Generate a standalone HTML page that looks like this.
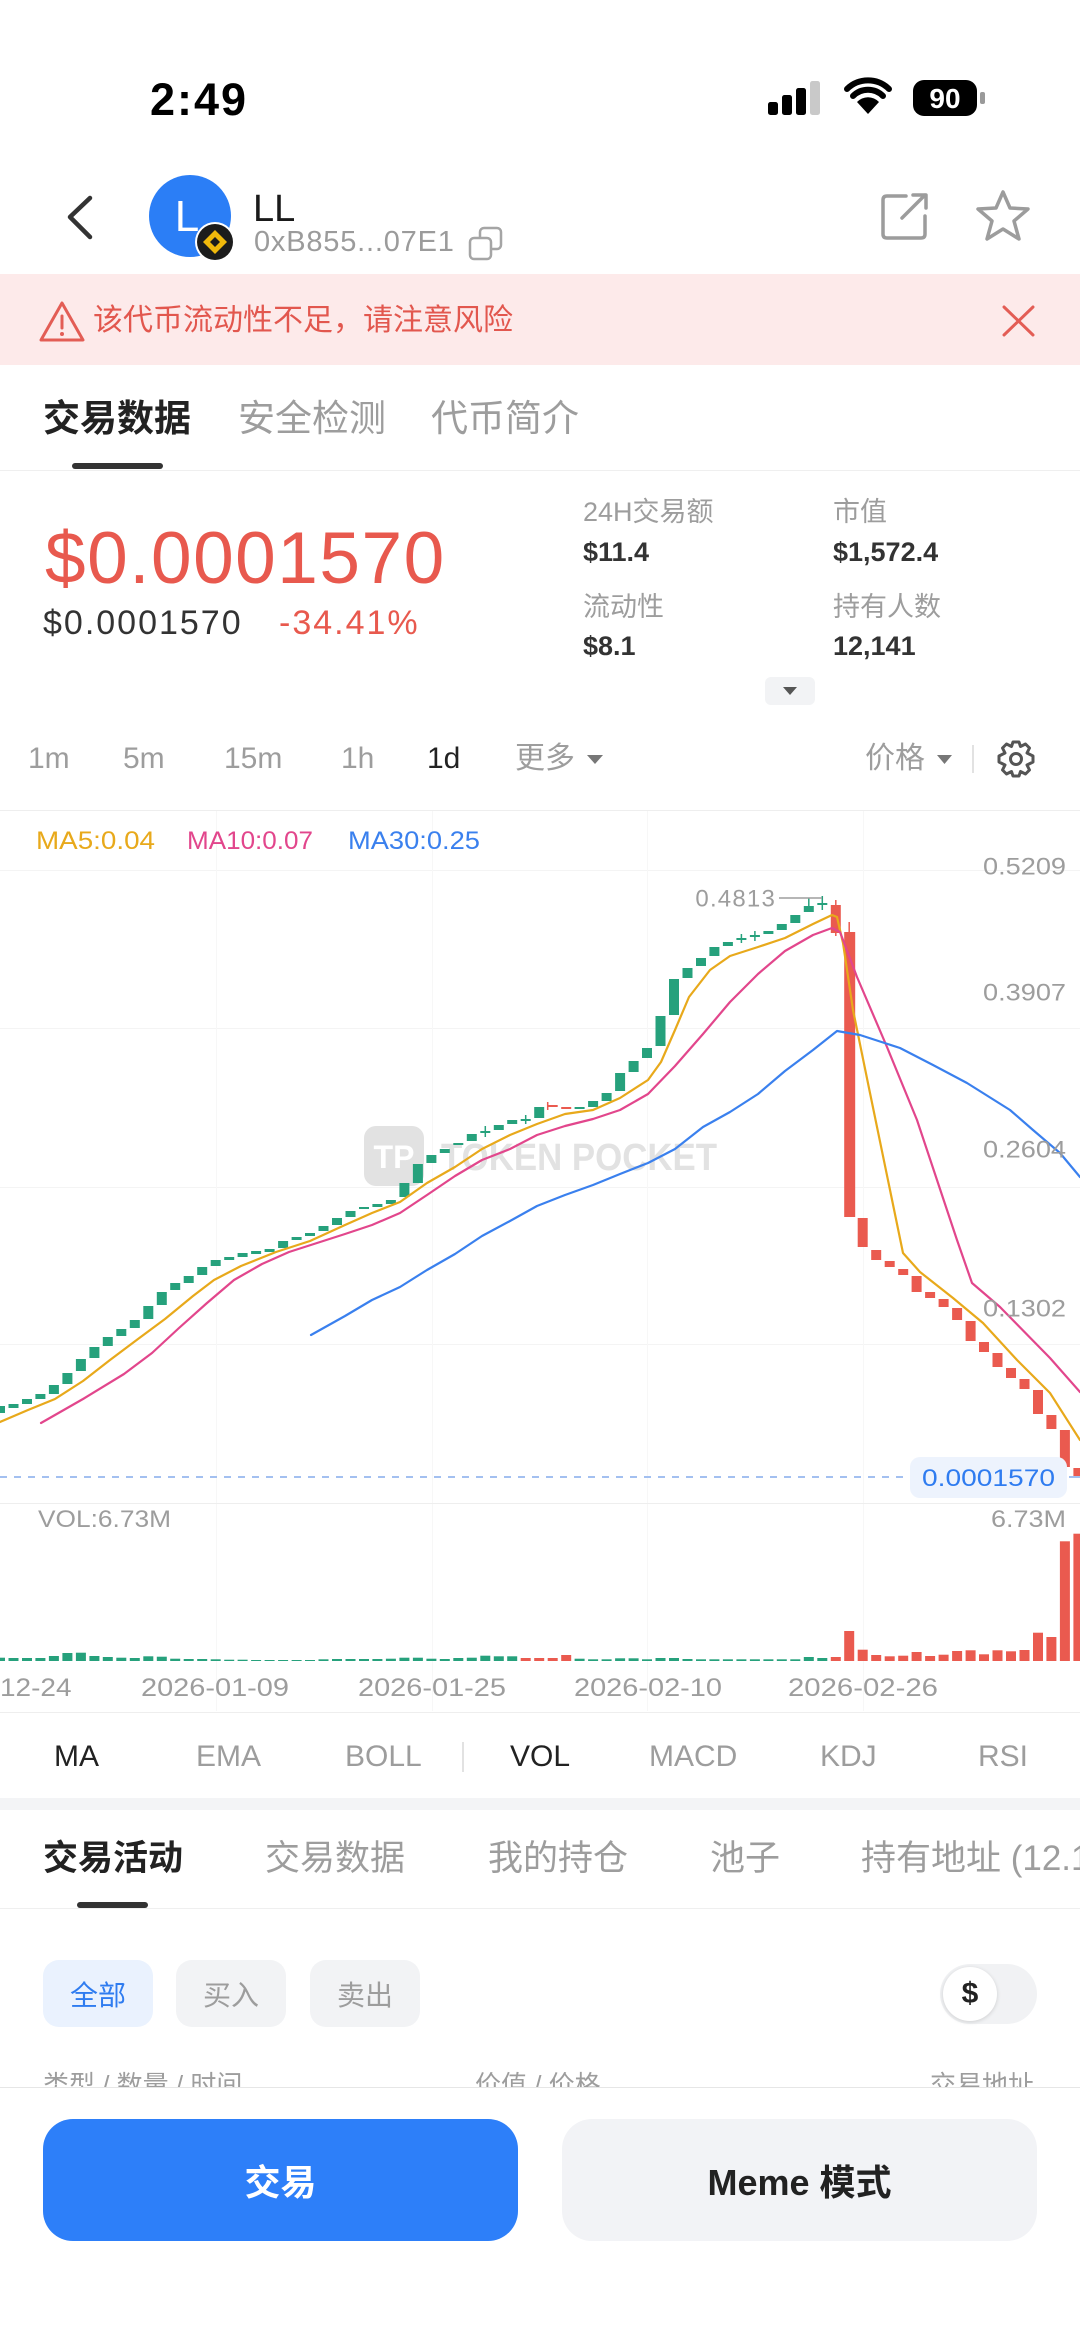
<!DOCTYPE html>
<html><head><meta charset="utf-8">
<style>
*{margin:0;padding:0;box-sizing:border-box}
html,body{width:1080px;height:2345px;overflow:hidden;background:#fff}
body{position:relative;font-family:"Liberation Sans","Noto Sans CJK SC",sans-serif;color:#222}
.t{position:absolute;white-space:nowrap}
.g{color:#9d9d9d}
.chip{position:absolute;top:1960px;height:67px;width:110px;border-radius:16px;display:flex;align-items:center;justify-content:center;font-size:28px;background:#f2f3f5;color:#9d9d9d}
</style></head><body>

<div style="position:absolute;left:0;top:274px;width:1080px;height:91px;background:#fdeaea"></div>
<div style="position:absolute;left:0;top:1798px;width:1080px;height:12px;background:#f3f4f6"></div>

<div class="chip" style="left:43px;background:#eaf2fe;color:#2f7cf0">全部</div>
<div class="chip" style="left:176px">买入</div>
<div class="chip" style="left:310px">卖出</div>
<div style="position:absolute;left:940px;top:1964px;width:97px;height:60px;border-radius:30px;background:#f1f2f4"></div>
<div style="position:absolute;left:943px;top:1967px;width:54px;height:54px;border-radius:50%;background:#fff;box-shadow:0 1px 4px rgba(0,0,0,.15);display:flex;align-items:center;justify-content:center;font-size:30px;font-weight:bold;color:#222">$</div>

<div style="position:absolute;left:0;top:2060px;width:1080px;height:27px;overflow:hidden">
  <div class="t g" style="left:43px;top:12px;font-size:26px;line-height:26px">类型 / 数量 / 时间</div>
  <div class="t g" style="left:475px;top:12px;font-size:26px;line-height:26px">价值 / 价格</div>
  <div class="t g" style="left:930px;top:12px;font-size:26px;line-height:26px">交易地址</div>
</div>
<div style="position:absolute;left:0;top:2087px;width:1080px;height:1px;background:#e6e6e6"></div>
<div style="position:absolute;left:43px;top:2119px;width:475px;height:122px;border-radius:30px;background:#2d7ff9;display:flex;align-items:center;justify-content:center;color:#fff;font-size:36px;font-weight:600">交易</div>
<div style="position:absolute;left:562px;top:2119px;width:475px;height:122px;border-radius:30px;background:#f2f3f6;display:flex;align-items:center;justify-content:center;color:#222;font-size:36px;font-weight:600">Meme 模式</div>

<svg style="position:absolute;left:0;top:0" width="1080" height="2345" viewBox="0 0 1080 2345" font-family="Liberation Sans, Noto Sans CJK SC, sans-serif">
  <!-- status bar -->
  <rect x="768" y="102" width="10" height="13" rx="2.5" fill="#000"/>
  <rect x="782" y="95" width="10" height="20" rx="2.5" fill="#000"/>
  <rect x="796" y="88" width="10" height="27" rx="2.5" fill="#000"/>
  <rect x="810" y="81" width="10" height="34" rx="2.5" fill="#c9c9c9"/>
  <path d="M868 114 L857 102 A15 15 0 0 1 879 102 Z" fill="#000"/>
  <path d="M853 96 A21 21 0 0 1 883 96" stroke="#000" stroke-width="6" fill="none" stroke-linecap="round"/>
  <path d="M847 89 A30 30 0 0 1 889 89" stroke="#000" stroke-width="6" fill="none" stroke-linecap="round"/>
  <rect x="913" y="80" width="64" height="36" rx="11" fill="#000"/>
  <text x="945" y="108" font-size="28" font-weight="bold" fill="#fff" text-anchor="middle">90</text>
  <rect x="980" y="92" width="5" height="12" rx="2" fill="#9a9a9a"/>

  <!-- header -->
  <polyline points="90,198 70,217 90,237" fill="none" stroke="#333" stroke-width="4.5" stroke-linecap="round" stroke-linejoin="round"/>
  <circle cx="190" cy="216" r="41" fill="#2b7ef6"/>
  <text x="187" y="231" font-size="44" fill="#fff" text-anchor="middle">L</text>
  <circle cx="215" cy="242" r="20" fill="#fff"/>
  <circle cx="215" cy="242" r="18" fill="#1c1c1c"/>
  <polygon points="215,230 227,242 215,254 203,242" fill="#f0b90b"/>
  <polygon points="215,237 220,242 215,247 210,242" fill="#1c1c1c"/>
  <rect x="480" y="228" width="21" height="21" rx="4" fill="none" stroke="#a5a5a5" stroke-width="2.5"/>
  <rect x="470" y="238" width="21" height="21" rx="4" fill="#fff" stroke="#a5a5a5" stroke-width="2.5"/>
  <path d="M906 196 H887 Q883 196 883 200 V234 Q883 238 887 238 H921 Q925 238 925 234 V216" fill="none" stroke="#9c9c9c" stroke-width="3.5" stroke-linecap="round"/>
  <path d="M902 218 L925 195 M913 195 H926 V208" fill="none" stroke="#9c9c9c" stroke-width="3.5" stroke-linecap="round" stroke-linejoin="round"/>
  <polygon points="1003,192 1010,208 1028,209 1014,221 1019,239 1003,229 987,239 992,221 978,209 996,208" fill="none" stroke="#9c9c9c" stroke-width="3.5" stroke-linejoin="round"/>

  <!-- warning -->
  <path d="M62 303 L83 340 H41 Z" fill="none" stroke="#e35d55" stroke-width="3" stroke-linejoin="round"/>
  <line x1="62" y1="316" x2="62" y2="328" stroke="#e35d55" stroke-width="3" stroke-linecap="round"/>
  <circle cx="62" cy="334" r="2" fill="#e35d55"/>
  <path d="M1004 307 L1033 335 M1033 307 L1004 335" stroke="#e35d55" stroke-width="3" stroke-linecap="round"/>

  <!-- tabs -->
  <rect x="72" y="463" width="91" height="6" rx="3" fill="#333"/>
  <rect x="0" y="470" width="1080" height="1" fill="#efefef"/>

  <!-- dropdown -->
  <rect x="765" y="677" width="50" height="28" rx="6" fill="#f2f3f5"/>
  <polygon points="783,687 797,687 790,695" fill="#555"/>

  <!-- timeframe icons -->
  <polygon points="587,755 603,755 595,764" fill="#777"/>
  <polygon points="937,755 952,755 944.5,764" fill="#777"/>
  <rect x="972" y="745" width="2" height="28" fill="#e2e2e2"/>
  <g transform="translate(1016,759)" fill="none" stroke="#555" stroke-width="3" stroke-linejoin="round">
    <path d="M-3,-17 L3,-17 L4.5,-12.5 L9.5,-15 L13.5,-11 L11,-6 L17,-3 L17,3 L11,6 L13.5,11 L9.5,15 L4.5,12.5 L3,17 L-3,17 L-4.5,12.5 L-9.5,15 L-13.5,11 L-11,6 L-17,3 L-17,-3 L-11,-6 L-13.5,-11 L-9.5,-15 L-4.5,-12.5 Z"/>
    <circle cx="0" cy="0" r="5.5"/>
  </g>

  <!-- chart frame -->
  <rect x="0" y="810" width="1080" height="1" fill="#eeeeee"/>
  <g fill="#f4f4f4">
    <rect x="0" y="870" width="1080" height="1"/>
    <rect x="0" y="1028" width="1080" height="1"/>
    <rect x="0" y="1187" width="1080" height="1"/>
    <rect x="0" y="1344" width="1080" height="1"/>
  </g>
  <g fill="#f7f7f7">
    <rect x="216" y="811" width="1" height="900"/>
    <rect x="432" y="811" width="1" height="900"/>
    <rect x="647" y="811" width="1" height="900"/>
    <rect x="863" y="811" width="1" height="900"/>
  </g>
  <rect x="0" y="1503" width="1080" height="1" fill="#eeeeee"/>
  <rect x="0" y="1712" width="1080" height="1" fill="#eeeeee"/>

  <!-- watermark -->
  <rect x="364" y="1126" width="60" height="60" rx="12" fill="#e2e2e2"/>
  <text x="394" y="1168" font-size="32" font-weight="bold" fill="#fff" text-anchor="middle">TP</text>
  <text x="441" y="1170" font-size="38" font-weight="bold" fill="#e2e2e2" textLength="276" lengthAdjust="spacingAndGlyphs">TOKEN POCKET</text>

  <!-- legend -->
  <text x="36" y="849" font-size="25" fill="#e8a91b" textLength="119" lengthAdjust="spacingAndGlyphs">MA5:0.04</text>
  <text x="187" y="849" font-size="25" fill="#e2468c" textLength="126" lengthAdjust="spacingAndGlyphs">MA10:0.07</text>
  <text x="348" y="849" font-size="25" fill="#3a80ee" textLength="132" lengthAdjust="spacingAndGlyphs">MA30:0.25</text>

  <!-- wicks -->
  <g stroke-width="1.5">
    <line x1="485.3" y1="1126" x2="485.3" y2="1137" stroke="#26a17c"/>
    <line x1="525.7" y1="1115" x2="525.7" y2="1124" stroke="#26a17c"/>
    <line x1="741.4" y1="934" x2="741.4" y2="943" stroke="#26a17c"/>
    <line x1="754.9" y1="931" x2="754.9" y2="941" stroke="#26a17c"/>
    <line x1="808.8" y1="898" x2="808.8" y2="912" stroke="#26a17c"/>
    <line x1="822.3" y1="896" x2="822.3" y2="910" stroke="#26a17c"/>
    <line x1="835.8" y1="900" x2="835.8" y2="936" stroke="#ea5a4f"/>
    <line x1="849.2" y1="922" x2="849.2" y2="1217" stroke="#ea5a4f"/>
    <line x1="547.7" y1="1102" x2="547.7" y2="1110" stroke="#ea5a4f"/>
  </g>

  <!-- candles green -->
  <g fill="#26a17c">
    <rect x="-5" y="1406" width="10" height="7"/>
    <rect x="8.5" y="1404" width="10" height="4"/>
    <rect x="22" y="1399" width="10" height="5"/>
    <rect x="35.4" y="1394" width="10" height="5"/>
    <rect x="48.9" y="1385" width="10" height="9"/>
    <rect x="62.4" y="1373" width="10" height="11"/>
    <rect x="75.9" y="1359" width="10" height="12"/>
    <rect x="89.4" y="1347" width="10" height="11"/>
    <rect x="102.8" y="1337" width="10" height="9"/>
    <rect x="116.3" y="1329" width="10" height="7"/>
    <rect x="129.8" y="1320" width="10" height="8"/>
    <rect x="143.3" y="1306" width="10" height="13"/>
    <rect x="156.8" y="1292" width="10" height="13"/>
    <rect x="170.2" y="1283" width="10" height="7"/>
    <rect x="183.7" y="1276" width="10" height="7"/>
    <rect x="197.2" y="1267" width="10" height="8"/>
    <rect x="210.7" y="1260" width="10" height="6"/>
    <rect x="224.2" y="1257" width="10" height="3"/>
    <rect x="237.6" y="1253" width="10" height="4"/>
    <rect x="251.1" y="1251" width="10" height="3"/>
    <rect x="264.6" y="1249" width="10" height="3"/>
    <rect x="278.1" y="1241" width="10" height="7"/>
    <rect x="291.6" y="1237" width="10" height="3"/>
    <rect x="305" y="1233" width="10" height="3"/>
    <rect x="318.5" y="1226" width="10" height="5"/>
    <rect x="332" y="1218" width="10" height="7"/>
    <rect x="345.5" y="1211" width="10" height="6"/>
    <rect x="359" y="1207" width="10" height="2"/>
    <rect x="372.4" y="1204" width="10" height="3"/>
    <rect x="385.9" y="1200" width="10" height="4"/>
    <rect x="399.4" y="1183" width="10" height="14"/>
    <rect x="412.9" y="1164" width="10" height="19"/>
    <rect x="426.4" y="1155" width="10" height="8"/>
    <rect x="439.8" y="1149" width="10" height="4"/>
    <rect x="453.3" y="1143" width="10" height="2"/>
    <rect x="466.8" y="1134" width="10" height="7"/>
    <rect x="480.3" y="1131" width="10" height="2"/>
    <rect x="493.8" y="1125" width="10" height="5"/>
    <rect x="507.2" y="1120" width="10" height="4"/>
    <rect x="520.7" y="1119" width="10" height="2"/>
    <rect x="534.2" y="1107" width="10" height="11"/>
    <rect x="574.6" y="1107" width="10" height="2"/>
    <rect x="588.1" y="1101" width="10" height="6"/>
    <rect x="601.6" y="1093" width="10" height="8"/>
    <rect x="615.1" y="1073" width="10" height="18"/>
    <rect x="628.6" y="1061" width="10" height="11"/>
    <rect x="642" y="1048" width="10" height="10"/>
    <rect x="655.5" y="1016" width="10" height="30"/>
    <rect x="669" y="979" width="10" height="36"/>
    <rect x="682.5" y="968" width="10" height="10"/>
    <rect x="696" y="958" width="10" height="8"/>
    <rect x="709.4" y="947" width="10" height="9"/>
    <rect x="722.9" y="942" width="10" height="4"/>
    <rect x="736.4" y="938" width="10" height="2"/>
    <rect x="749.9" y="935" width="10" height="2"/>
    <rect x="763.4" y="931" width="10" height="3"/>
    <rect x="776.8" y="924" width="10" height="6"/>
    <rect x="790.3" y="915" width="10" height="8"/>
    <rect x="803.8" y="906" width="10" height="6"/>
    <rect x="817.3" y="903" width="10" height="2"/>
  </g>
  <!-- candles red -->
  <g fill="#ea5a4f">
    <rect x="547.7" y="1105" width="10" height="2"/>
    <rect x="561.2" y="1107" width="10" height="2"/>
    <rect x="830.8" y="905" width="10" height="28"/>
    <rect x="844.2" y="932" width="11" height="285"/>
    <rect x="857.7" y="1218" width="10" height="29"/>
    <rect x="871.2" y="1250" width="10" height="10"/>
    <rect x="884.7" y="1261" width="10" height="6"/>
    <rect x="898.2" y="1269" width="10" height="6"/>
    <rect x="911.6" y="1276" width="10" height="16"/>
    <rect x="925.1" y="1292" width="10" height="6"/>
    <rect x="938.6" y="1299" width="10" height="8"/>
    <rect x="952.1" y="1308" width="10" height="12"/>
    <rect x="965.6" y="1321" width="10" height="20"/>
    <rect x="979" y="1342" width="10" height="10"/>
    <rect x="992.5" y="1353" width="10" height="14"/>
    <rect x="1006" y="1368" width="10" height="10"/>
    <rect x="1019.5" y="1379" width="10" height="10"/>
    <rect x="1033" y="1390" width="10" height="24"/>
    <rect x="1046.4" y="1415" width="10" height="14"/>
    <rect x="1059.9" y="1430" width="10" height="37"/>
    <rect x="1073.4" y="1468" width="10" height="9"/>
  </g>

  <!-- MA lines -->
  <g fill="none" stroke-width="2.2" stroke-linejoin="round" stroke-linecap="round">
    <polyline stroke="#e8a91b" points="0,1422 28,1410 55,1399 83,1381 110,1360 138,1339 165,1319 193,1296 214,1280 241,1266 276,1252 310,1241 345,1225 372,1213 400,1202 427,1183 455,1167 482,1149 510,1135 537,1124 565,1114 593,1110 620,1098 648,1080 661,1062 675,1030 689,997 710,970 730,956 758,947 785,938 813,924 832,915 837,917 843,943 853,1010 870,1093 903,1253 920,1272 953,1298 983,1323 1017,1360 1050,1393 1080,1440"/>
    <polyline stroke="#e2468c" points="41,1423 83,1399 124,1374 152,1353 179,1328 207,1303 234,1280 262,1264 289,1252 317,1243 345,1234 372,1225 400,1213 427,1195 455,1176 482,1160 510,1149 537,1135 565,1126 593,1119 620,1110 648,1094 675,1066 703,1034 730,1002 758,974 785,951 813,935 832,928 840,932 857,977 887,1047 917,1120 957,1240 972,1283 1000,1307 1050,1358 1080,1392"/>
    <polyline stroke="#3a80ee" points="311,1335 345,1316 372,1300 400,1287 427,1270 455,1254 482,1236 510,1221 537,1206 565,1195 593,1185 620,1174 648,1163 675,1149 703,1127 730,1112 758,1094 785,1071 813,1050 837,1031 860,1035 900,1048 933,1065 967,1083 1010,1110 1033,1130 1060,1153 1080,1177"/>
  </g>

  <!-- peak marker -->
  <line x1="779" y1="898" x2="822" y2="898" stroke="#9d9d9d" stroke-width="1.5"/>
  <text x="776" y="906.6" font-size="24" fill="#9d9d9d" text-anchor="end" letter-spacing="1.2">0.4813</text>

  <!-- y labels -->
  <g font-size="24" fill="#9d9d9d" text-anchor="end">
    <text x="1066" y="874.6" textLength="83" lengthAdjust="spacingAndGlyphs">0.5209</text>
    <text x="1066" y="1000.6" textLength="83" lengthAdjust="spacingAndGlyphs">0.3907</text>
    <text x="1066" y="1157.6" textLength="83" lengthAdjust="spacingAndGlyphs">0.2604</text>
    <text x="1066" y="1316.6" textLength="83" lengthAdjust="spacingAndGlyphs">0.1302</text>
  </g>

  <!-- current price -->
  <line x1="0" y1="1477" x2="905" y2="1477" stroke="#a3c0f0" stroke-width="2" stroke-dasharray="7,7"/>
  <line x1="1069" y1="1477" x2="1080" y2="1477" stroke="#a3c0f0" stroke-width="2"/>
  <rect x="910" y="1457" width="157" height="41" rx="10" fill="#edf3fd"/>
  <text x="988.5" y="1486" font-size="24" fill="#2f7cf0" text-anchor="middle" textLength="133" lengthAdjust="spacingAndGlyphs">0.0001570</text>

  <!-- volume -->
  <text x="38" y="1527" font-size="24" fill="#9d9d9d" textLength="133" lengthAdjust="spacingAndGlyphs">VOL:6.73M</text>
  <text x="1066" y="1527" font-size="24" fill="#9d9d9d" text-anchor="end" textLength="75" lengthAdjust="spacingAndGlyphs">6.73M</text>
  <g fill="#26a17c">
    <rect x="-5" y="1657.7" width="10" height="3.3"/>
    <rect x="8.5" y="1658" width="10" height="3"/>
    <rect x="22" y="1658" width="10" height="3"/>
    <rect x="35.4" y="1658" width="10" height="3"/>
    <rect x="48.9" y="1656" width="10" height="5"/>
    <rect x="62.4" y="1653" width="10" height="8"/>
    <rect x="75.9" y="1652.7" width="10" height="8.3"/>
    <rect x="89.4" y="1656" width="10" height="5"/>
    <rect x="102.8" y="1657" width="10" height="4"/>
    <rect x="116.3" y="1657.7" width="10" height="3.3"/>
    <rect x="129.8" y="1658" width="10" height="3"/>
    <rect x="143.3" y="1656.3" width="10" height="4.7"/>
    <rect x="156.8" y="1656.7" width="10" height="4.3"/>
    <rect x="170.2" y="1658.7" width="10" height="2.3"/>
    <rect x="183.7" y="1659" width="10" height="2"/>
    <rect x="197.2" y="1659" width="10" height="2"/>
    <rect x="210.7" y="1659.3" width="10" height="1.7"/>
    <rect x="224.2" y="1659.7" width="10" height="1.3"/>
    <rect x="237.6" y="1659.7" width="10" height="1.3"/>
    <rect x="251.1" y="1660" width="10" height="1"/>
    <rect x="264.6" y="1660" width="10" height="1"/>
    <rect x="278.1" y="1660" width="10" height="1"/>
    <rect x="291.6" y="1660" width="10" height="1"/>
    <rect x="305" y="1660" width="10" height="1"/>
    <rect x="318.5" y="1659.3" width="10" height="1.7"/>
    <rect x="332" y="1659" width="10" height="2"/>
    <rect x="345.5" y="1659" width="10" height="2"/>
    <rect x="359" y="1659" width="10" height="2"/>
    <rect x="372.4" y="1659" width="10" height="2"/>
    <rect x="385.9" y="1658.7" width="10" height="2.3"/>
    <rect x="399.4" y="1657.7" width="10" height="3.3"/>
    <rect x="412.9" y="1657.7" width="10" height="3.3"/>
    <rect x="426.4" y="1658.7" width="10" height="2.3"/>
    <rect x="439.8" y="1659" width="10" height="2"/>
    <rect x="453.3" y="1658" width="10" height="3"/>
    <rect x="466.8" y="1657.7" width="10" height="3.3"/>
    <rect x="480.3" y="1655.7" width="10" height="5.3"/>
    <rect x="493.8" y="1656.3" width="10" height="4.7"/>
    <rect x="507.2" y="1656.3" width="10" height="4.7"/>
    <rect x="574.6" y="1658.7" width="10" height="2.3"/>
    <rect x="588.1" y="1659.3" width="10" height="1.7"/>
    <rect x="601.6" y="1659.3" width="10" height="1.7"/>
    <rect x="615.1" y="1658.3" width="10" height="2.7"/>
    <rect x="628.6" y="1658.3" width="10" height="2.7"/>
    <rect x="642" y="1659.3" width="10" height="1.7"/>
    <rect x="655.5" y="1658" width="10" height="3"/>
    <rect x="669" y="1658" width="10" height="3"/>
    <rect x="682.5" y="1659" width="10" height="2"/>
    <rect x="696" y="1659.3" width="10" height="1.7"/>
    <rect x="709.4" y="1659.3" width="10" height="1.7"/>
    <rect x="722.9" y="1659.3" width="10" height="1.7"/>
    <rect x="736.4" y="1659.3" width="10" height="1.7"/>
    <rect x="749.9" y="1659.3" width="10" height="1.7"/>
    <rect x="763.4" y="1659.3" width="10" height="1.7"/>
    <rect x="776.8" y="1659.3" width="10" height="1.7"/>
    <rect x="790.3" y="1659.3" width="10" height="1.7"/>
    <rect x="803.8" y="1657" width="10" height="4"/>
    <rect x="817.3" y="1658" width="10" height="3"/>
  </g>
  <g fill="#ea5a4f">
    <rect x="520.7" y="1658" width="10" height="3"/>
    <rect x="534.2" y="1658" width="10" height="3"/>
    <rect x="547.7" y="1658" width="10" height="3"/>
    <rect x="561.2" y="1655" width="10" height="6"/>
    <rect x="830.8" y="1657" width="10" height="4"/>
    <rect x="844.2" y="1631" width="10" height="30"/>
    <rect x="857.7" y="1649.7" width="10" height="11.3"/>
    <rect x="871.2" y="1655" width="10" height="6"/>
    <rect x="884.7" y="1656.3" width="10" height="4.7"/>
    <rect x="898.2" y="1655.7" width="10" height="5.3"/>
    <rect x="911.6" y="1652" width="10" height="9"/>
    <rect x="925.1" y="1656" width="10" height="5"/>
    <rect x="938.6" y="1654.7" width="10" height="6.3"/>
    <rect x="952.1" y="1651" width="10" height="10"/>
    <rect x="965.6" y="1650.3" width="10" height="10.7"/>
    <rect x="979" y="1654.3" width="10" height="6.7"/>
    <rect x="992.5" y="1650.3" width="10" height="10.7"/>
    <rect x="1006" y="1651.3" width="10" height="9.7"/>
    <rect x="1019.5" y="1650" width="10" height="11"/>
    <rect x="1033" y="1632.7" width="10" height="28.3"/>
    <rect x="1046.4" y="1637" width="10" height="24"/>
    <rect x="1059.9" y="1541.3" width="10" height="119.7"/>
    <rect x="1073.4" y="1533.7" width="10" height="127.3"/>
  </g>

  <!-- dates -->
  <g font-size="25" fill="#9d9d9d" text-anchor="middle">
    <text x="0" y="1696" textLength="143" lengthAdjust="spacingAndGlyphs">2025-12-24</text>
    <text x="215" y="1696" textLength="148" lengthAdjust="spacingAndGlyphs">2026-01-09</text>
    <text x="432" y="1696" textLength="148" lengthAdjust="spacingAndGlyphs">2026-01-25</text>
    <text x="648" y="1696" textLength="148" lengthAdjust="spacingAndGlyphs">2026-02-10</text>
    <text x="863" y="1696" textLength="150" lengthAdjust="spacingAndGlyphs">2026-02-26</text>
  </g>

  <!-- indicator separator -->
  <rect x="462" y="1742" width="2" height="30" fill="#e2e2e2"/>

  <!-- bottom tabs -->
  <rect x="77" y="1902" width="71" height="6" rx="3" fill="#333"/>
  <rect x="0" y="1908" width="1080" height="1" fill="#efefef"/>
</svg>

<!-- text -->
<div class="t" style="left:150px;top:77px;font-size:45px;line-height:45px;font-weight:bold;color:#000;letter-spacing:2px">2:49</div>
<div class="t" style="left:253px;top:190px;font-size:38px;line-height:38px;color:#1a1a1a">LL</div>
<div class="t" style="left:254px;top:228px;font-size:29px;line-height:29px;color:#9b9b9b;letter-spacing:0.8px">0xB855...07E1</div>

<div class="t" style="left:93px;top:306px;font-size:30px;line-height:30px;color:#e2574e">该代币流动性不足，请注意风险</div>

<div class="t" style="left:43px;top:400px;font-size:37px;line-height:37px;font-weight:bold;color:#222">交易数据</div>
<div class="t g" style="left:238px;top:400px;font-size:37px;line-height:37px">安全检测</div>
<div class="t g" style="left:431px;top:400px;font-size:37px;line-height:37px">代币简介</div>

<div class="t" style="left:45px;top:522px;font-size:73px;line-height:73px;color:#e8594e;letter-spacing:1.5px">$0.0001570</div>
<div class="t" style="left:43px;top:606px;font-size:34px;line-height:34px;color:#333;letter-spacing:2px">$0.0001570</div>
<div class="t" style="left:279px;top:606px;font-size:34px;line-height:34px;color:#e8594e;letter-spacing:2px">-34.41%</div>

<div class="t g" style="left:583px;top:499px;font-size:27px;line-height:27px">24H交易额</div>
<div class="t g" style="left:833px;top:499px;font-size:27px;line-height:27px">市值</div>
<div class="t" style="left:583px;top:539px;font-size:27px;line-height:27px;font-weight:bold;color:#333">$11.4</div>
<div class="t" style="left:833px;top:539px;font-size:27px;line-height:27px;font-weight:bold;color:#333">$1,572.4</div>
<div class="t g" style="left:583px;top:594px;font-size:27px;line-height:27px">流动性</div>
<div class="t g" style="left:833px;top:594px;font-size:27px;line-height:27px">持有人数</div>
<div class="t" style="left:583px;top:633px;font-size:27px;line-height:27px;font-weight:bold;color:#333">$8.1</div>
<div class="t" style="left:833px;top:633px;font-size:27px;line-height:27px;font-weight:bold;color:#333">12,141</div>

<div class="t g" style="left:28px;top:744px;font-size:30px;line-height:30px">1m</div>
<div class="t g" style="left:123px;top:744px;font-size:30px;line-height:30px">5m</div>
<div class="t g" style="left:224px;top:744px;font-size:30px;line-height:30px">15m</div>
<div class="t g" style="left:341px;top:744px;font-size:30px;line-height:30px">1h</div>
<div class="t" style="left:427px;top:744px;font-size:30px;line-height:30px;color:#222">1d</div>
<div class="t g" style="left:515px;top:744px;font-size:30px;line-height:30px">更多</div>
<div class="t g" style="left:865px;top:744px;font-size:30px;line-height:30px">价格</div>

<div class="t" style="left:54px;top:1742px;font-size:30px;line-height:30px;color:#222">MA</div>
<div class="t g" style="left:196px;top:1742px;font-size:30px;line-height:30px">EMA</div>
<div class="t g" style="left:345px;top:1742px;font-size:30px;line-height:30px">BOLL</div>
<div class="t" style="left:510px;top:1742px;font-size:30px;line-height:30px;color:#222">VOL</div>
<div class="t g" style="left:649px;top:1742px;font-size:30px;line-height:30px">MACD</div>
<div class="t g" style="left:820px;top:1742px;font-size:30px;line-height:30px">KDJ</div>
<div class="t g" style="left:978px;top:1742px;font-size:30px;line-height:30px">RSI</div>

<div class="t" style="left:43px;top:1841px;font-size:35px;line-height:35px;font-weight:bold;color:#222">交易活动</div>
<div class="t g" style="left:265px;top:1841px;font-size:35px;line-height:35px">交易数据</div>
<div class="t g" style="left:488px;top:1841px;font-size:35px;line-height:35px">我的持仓</div>
<div class="t g" style="left:710px;top:1841px;font-size:35px;line-height:35px">池子</div>
<div class="t g" style="left:861px;top:1841px;font-size:35px;line-height:35px">持有地址 (12.1</div>

</body></html>
